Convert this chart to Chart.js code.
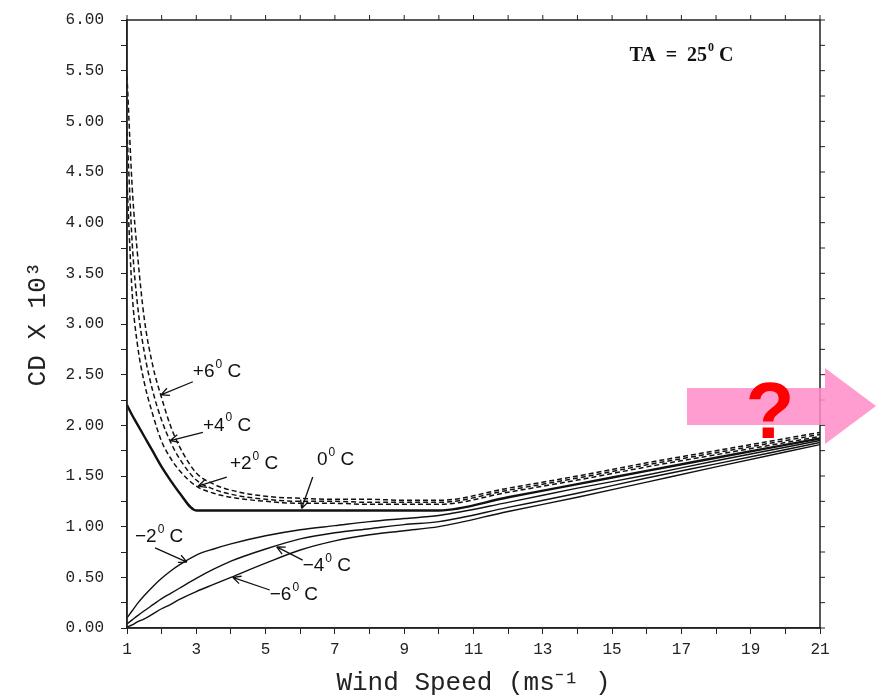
<!DOCTYPE html>
<html>
<head>
<meta charset="utf-8">
<script src="https://cdn.jsdelivr.net/npm/chart.js@4/dist/chart.umd.min.js"></script>
<style>
  html, body { margin: 0; padding: 0; background: #fff; }
  #wrap { width: 879px; height: 700px; position: relative; }
</style>
</head>
<body>
<div id="wrap"><canvas id="cdChart"></canvas></div>
<script>
// wind speed sample points (m/s), shared by all curves
const windSpeed = [1, 1.15, 1.3, 1.5, 1.75, 2, 2.25, 2.5, 3, 3.5, 4, 5, 6, 7, 8, 9, 10, 12, 14, 16, 18, 21];

// CD x 10^3, one array per sea-air temperature difference
const cdPlus6  = [5.45, 4.35, 3.70, 3.05, 2.58, 2.27, 2.00, 1.80, 1.53, 1.42, 1.36, 1.30, 1.28, 1.27, 1.27, 1.26, 1.26, 1.38, 1.50, 1.63, 1.75, 1.93];
const cdPlus4  = [4.90, 3.80, 3.20, 2.72, 2.33, 2.05, 1.84, 1.68, 1.46, 1.37, 1.32, 1.27, 1.25, 1.25, 1.24, 1.24, 1.24, 1.36, 1.48, 1.61, 1.73, 1.91];
const cdPlus2  = [4.40, 3.30, 2.80, 2.42, 2.10, 1.84, 1.68, 1.56, 1.40, 1.33, 1.29, 1.25, 1.23, 1.23, 1.22, 1.22, 1.22, 1.34, 1.46, 1.59, 1.71, 1.89];
const cdZero   = [2.20, 2.10, 2.01, 1.89, 1.74, 1.59, 1.46, 1.34, 1.16, 1.16, 1.16, 1.16, 1.16, 1.16, 1.16, 1.16, 1.16, 1.29, 1.42, 1.55, 1.68, 1.87];
const cdMinus2 = [0.10, 0.17, 0.24, 0.32, 0.41, 0.49, 0.56, 0.62, 0.72, 0.78, 0.83, 0.91, 0.97, 1.01, 1.05, 1.08, 1.11, 1.24, 1.38, 1.51, 1.65, 1.85];
const cdMinus4 = [0.04, 0.08, 0.12, 0.17, 0.23, 0.29, 0.34, 0.39, 0.49, 0.58, 0.66, 0.78, 0.88, 0.94, 0.98, 1.02, 1.05, 1.19, 1.33, 1.48, 1.62, 1.83];
const cdMinus6 = [0.01, 0.03, 0.06, 0.09, 0.14, 0.19, 0.23, 0.28, 0.36, 0.43, 0.50, 0.64, 0.77, 0.86, 0.92, 0.96, 1.00, 1.15, 1.29, 1.44, 1.59, 1.81];

const curveNames = ['+6', '+4', '+2', '0', '\u22122', '\u22124', '\u22126'];
const xTicksLabelled = [1, 3, 5, 7, 9, 11, 13, 15, 17, 19, 21];

function toPoints(vals) {
    return vals.map((v, i) => ({ x: windSpeed[i], y: v }));
}

function makeSet(name, vals, dashed, width) {
    return {
        label: name + '\u00b0 C',
        data: toPoints(vals),
        borderColor: '#111',
        borderWidth: width,
        borderDash: dashed ? [5, 3] : [],
        pointRadius: 0,
        cubicInterpolationMode: 'monotone',
        fill: false
    };
}

const datasets = [
    makeSet(curveNames[0], cdPlus6, true, 1.5),
    makeSet(curveNames[1], cdPlus4, true, 1.5),
    makeSet(curveNames[2], cdPlus2, true, 1.5),
    makeSet(curveNames[3], cdZero, false, 2.4),
    makeSet(curveNames[4], cdMinus2, false, 1.4),
    makeSet(curveNames[5], cdMinus4, false, 1.4),
    makeSet(curveNames[6], cdMinus6, false, 1.4)
];

// label text position and arrow (from, to) in data units
const callouts = [
    { name: curveNames[0], at: [2.90, 2.53], from: [2.90, 2.43], to: [1.98, 2.30] },
    { name: curveNames[1], at: [3.19, 2.00], from: [3.19, 1.93], to: [2.25, 1.85] },
    { name: curveNames[2], at: [3.97, 1.62], from: [3.88, 1.49], to: [3.05, 1.40] },
    { name: curveNames[3], at: [6.48, 1.66], from: [6.36, 1.49], to: [6.04, 1.18] },
    { name: curveNames[4], at: [1.23, 0.90], from: [1.81, 0.79], to: [2.73, 0.65] },
    { name: curveNames[5], at: [6.07, 0.61], from: [6.07, 0.67], to: [5.32, 0.80] },
    { name: curveNames[6], at: [5.12, 0.33], from: [5.12, 0.375], to: [4.05, 0.50] }
];

// "main" + superscript 0 + " C"
function drawDegText(ctx, x, y, main, size, family, weight) {
    const f = s => (weight || '') + ' ' + s + 'px ' + family;
    ctx.textBaseline = 'middle';
    ctx.textAlign = 'left';
    ctx.font = f(size);
    ctx.fillText(main, x, y);
    let w = ctx.measureText(main).width;
    ctx.font = f(Math.round(size * 0.62));
    ctx.fillText('0', x + w + 1, y - size * 0.38);
    w += ctx.measureText('0').width + 1;
    ctx.font = f(size);
    ctx.fillText(' C', x + w, y);
}

function drawArrow(ctx, x1, y1, x2, y2) {
    const ang = Math.atan2(y2 - y1, x2 - x1);
    ctx.beginPath();
    ctx.moveTo(x1, y1);
    ctx.lineTo(x2, y2);
    ctx.moveTo(x2, y2);
    ctx.lineTo(x2 - 9 * Math.cos(ang - 0.45), y2 - 9 * Math.sin(ang - 0.45));
    ctx.moveTo(x2, y2);
    ctx.lineTo(x2 - 9 * Math.cos(ang + 0.45), y2 - 9 * Math.sin(ang + 0.45));
    ctx.stroke();
}

const decorations = {
    id: 'decorations',
    afterDraw(chart) {
        const { ctx, chartArea: a } = chart;
        const xs = chart.scales.x, ys = chart.scales.y;
        ctx.save();

        // frame + outer ticks on top and right
        ctx.strokeStyle = '#222';
        ctx.lineWidth = 1.5;
        ctx.strokeRect(a.left, a.top, a.right - a.left, a.bottom - a.top);
        ctx.lineWidth = 1;
        ctx.beginPath();
        xs.ticks.forEach(t => {
            const px = xs.getPixelForValue(t.value);
            ctx.moveTo(px, a.top); ctx.lineTo(px, a.top - 5);
        });
        ys.ticks.forEach(t => {
            const py = ys.getPixelForValue(t.value);
            ctx.moveTo(a.right, py); ctx.lineTo(a.right + 5, py);
        });
        ctx.stroke();

        // curve callouts
        ctx.fillStyle = '#111';
        ctx.strokeStyle = '#111';
        ctx.lineWidth = 1.3;
        callouts.forEach(c => {
            drawDegText(ctx, xs.getPixelForValue(c.at[0]), ys.getPixelForValue(c.at[1]), c.name, 19, '"Liberation Sans", sans-serif');
            drawArrow(ctx, xs.getPixelForValue(c.from[0]), ys.getPixelForValue(c.from[1]),
                      xs.getPixelForValue(c.to[0]), ys.getPixelForValue(c.to[1]));
        });

        // TA = 25 C
        drawDegText(ctx, xs.getPixelForValue(15.5), ys.getPixelForValue(5.65), 'TA  =  25', 20, '"Liberation Serif", serif', 'bold');

        // pink arrow with question mark
        ctx.fillStyle = 'rgba(255, 140, 200, 0.85)';
        ctx.beginPath();
        ctx.moveTo(687, 388);
        ctx.lineTo(825, 388);
        ctx.lineTo(825, 368);
        ctx.lineTo(876, 406);
        ctx.lineTo(825, 444);
        ctx.lineTo(825, 425);
        ctx.lineTo(687, 425);
        ctx.closePath();
        ctx.fill();
        ctx.fillStyle = '#ff0000';
        ctx.font = 'bold 80px "Liberation Sans", sans-serif';
        ctx.textAlign = 'center';
        ctx.textBaseline = 'alphabetic';
        ctx.fillText('?', 770, 438);

        ctx.restore();
    }
};

new Chart(document.getElementById('cdChart'), {
    type: 'line',
    data: { datasets: datasets },
    options: {
        responsive: true,
        maintainAspectRatio: false,
        animation: false,
        layout: { padding: { top: 20, right: 59, left: 0, bottom: 0 } },
        plugins: {
            legend: { display: false },
            tooltip: { enabled: false }
        },
        scales: {
            x: {
                type: 'linear',
                min: 1,
                max: 21,
                afterFit: s => { s.height = 72; },
                ticks: {
                    stepSize: 1,
                    autoSkip: false,
                    maxRotation: 0,
                    padding: 6,
                    color: '#222',
                    font: { family: 'Liberation Mono', size: 16 },
                    callback: v => xTicksLabelled.includes(v) ? String(v) : ''
                },
                grid: { drawOnChartArea: false, tickLength: 6, color: '#222' },
                border: { color: '#222', width: 1.5 },
                title: {
                    display: true,
                    text: 'Wind Speed (ms\u207b\u00b9 )',
                    color: '#222',
                    font: { family: 'Liberation Mono', size: 26 },
                    padding: { top: 0, bottom: 1 }
                }
            },
            y: {
                min: 0,
                max: 6,
                afterFit: s => { s.width = 127; s.paddingTop = 0; s.paddingBottom = 0; },
                ticks: {
                    stepSize: 0.25,
                    autoSkip: false,
                    padding: 17,
                    color: '#222',
                    font: { family: 'Liberation Mono', size: 16 },
                    callback: v => (Math.round(v * 100) % 50 === 0) ? v.toFixed(2) : ''
                },
                grid: { drawOnChartArea: false, tickLength: 6, color: '#222' },
                border: { color: '#222', width: 1.5 },
                title: {
                    display: true,
                    text: 'CD X 10\u00b3',
                    color: '#222',
                    font: { family: 'Liberation Mono', size: 26 },
                    padding: { top: 23, bottom: 0 }
                }
            }
        }
    },
    plugins: [decorations]
});
</script>
</body>
</html>
